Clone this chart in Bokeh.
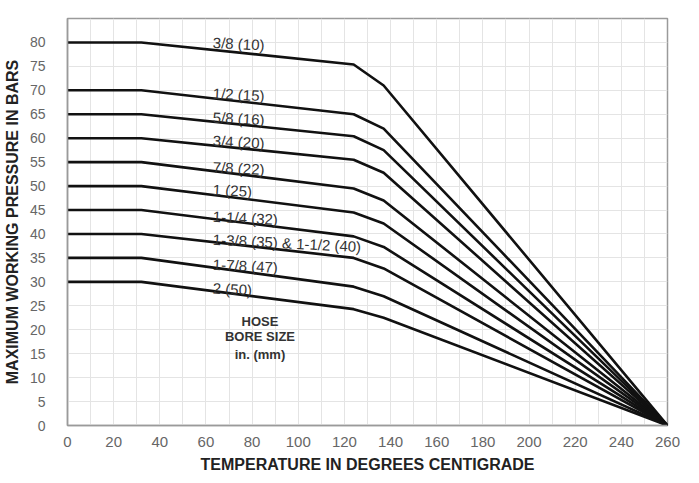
from bokeh.plotting import figure
from bokeh.models import Range1d, SingleIntervalTicker, ColumnDataSource
from bokeh.core.properties import value
from bokeh.embed import file_html
from bokeh.resources import INLINE

# Temperature breakpoints (deg C)
temps = [0, 32, 124, 137, 260]
# Pressure (bar) read at each breakpoint, one list per hose size
rated = [80, 70, 65, 60, 55, 50, 45, 40, 35, 30]
before_knee = [75.4, 65.0, 60.4, 55.5, 49.5, 44.5, 39.5, 35.0, 29.0, 24.3]
after_knee = [71.0, 62.0, 57.5, 52.8, 47.0, 42.2, 37.3, 32.8, 27.0, 22.5]
at_end = [0, 0, 0, 0, 0, 0, 0, 0, 0, 0]

labels = ["3/8 (10)", "1/2 (15)", "5/8 (16)", "3/4 (20)", "7/8 (22)", "1 (25)",
          "1-1/4 (32)", "1-3/8 (35) & 1-1/2 (40)", "1-7/8 (47)", "2 (50)"]
label_y = [80.0, 69.4, 64.4, 59.5, 54.0, 49.3, 43.7, 38.9, 33.7, 28.7]
label_x = [63] * len(labels)

note_lines = ["HOSE", "BORE SIZE", "in. (mm)"]
note_y = [21.8, 18.5, 14.8]
note_x = [83.4] * 3

x_ticks = list(range(0, 261, 20))
y_ticks = list(range(0, 81, 5))

FONT = "Liberation Sans"

p = figure(width=683, height=475, output_backend="svg", toolbar_location=None,
           x_range=Range1d(0, 260), y_range=Range1d(0, 85),
           min_border_left=60, min_border_right=16, min_border_top=18, min_border_bottom=46)
p.background_fill_color = "white"
p.border_fill_color = "white"
p.outline_line_color = "#9a9a9a"
p.outline_line_width = 1.5

for v0, v1, v2, v3 in zip(rated, before_knee, after_knee, at_end):
    ys = [v0, v0, v1, v2, v3]
    p.line(temps, ys, line_color="#111111", line_width=2.6, line_join="round", line_cap="round")

src = ColumnDataSource(dict(x=label_x, y=label_y, t=labels))
p.text("x", "y", text="t", source=src, text_font=value(FONT), text_font_size="15px",
       text_color="#333333", text_align="left", text_baseline="middle", angle=-0.05)

nsrc = ColumnDataSource(dict(x=note_x, y=note_y, t=note_lines))
p.text("x", "y", text="t", source=nsrc, text_font=value(FONT), text_font_size="13px",
       text_font_style="bold", text_color="#333333", text_align="center", text_baseline="middle")

p.xaxis.ticker = x_ticks
p.yaxis.ticker = y_ticks
p.xgrid.ticker = SingleIntervalTicker(interval=10)
p.ygrid.ticker = SingleIntervalTicker(interval=5)
p.xgrid.grid_line_color = "#e4e4e4"
p.ygrid.grid_line_color = "#e4e4e4"
p.xgrid.grid_line_width = 1
p.ygrid.grid_line_width = 1

for ax in (p.xaxis[0], p.yaxis[0]):
    ax.major_tick_line_color = None
    ax.minor_tick_line_color = None
    ax.axis_line_color = "#9a9a9a"
    ax.axis_line_width = 1.5
    ax.major_label_text_font = FONT
    ax.major_label_text_color = "#666666"
    ax.axis_label_text_font = FONT
    ax.axis_label_text_font_style = "bold"
    ax.axis_label_text_font_size = "16px"
    ax.axis_label_text_color = "#222222"

p.xaxis.axis_label = "TEMPERATURE IN DEGREES CENTIGRADE"
p.yaxis.axis_label = "MAXIMUM WORKING PRESSURE IN BARS"
p.xaxis.major_label_text_font_size = "15px"
p.yaxis.major_label_text_font_size = "14px"
p.xaxis.major_label_standoff = 5
p.yaxis.major_label_standoff = 16
p.xaxis.axis_label_standoff = 6
p.yaxis.axis_label_standoff = 6

open("out.html", "w").write(file_html(p, INLINE))
